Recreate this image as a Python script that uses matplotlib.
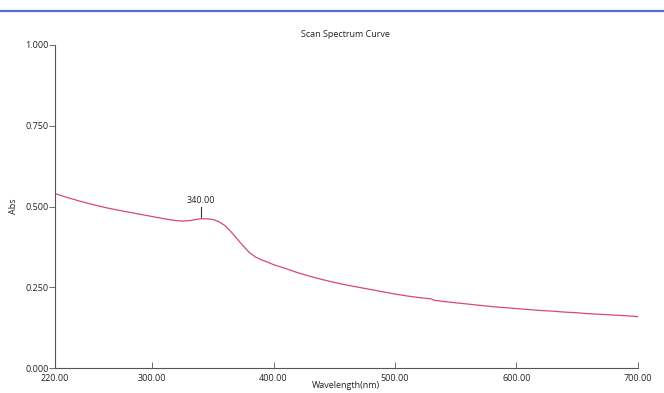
import matplotlib

matplotlib.use("Agg")
import matplotlib.pyplot as plt
from matplotlib.lines import Line2D

# absorbance scan
wavelength = [220, 230, 240, 250, 260, 270, 280, 290, 300, 310, 320, 325, 330, 335,
              340, 345, 350, 355, 360, 365, 370, 375, 380, 385, 390, 395, 400, 410,
              420, 430, 440, 450, 460, 470, 480, 490, 500, 510, 520, 530, 532, 540,
              550, 560, 570, 580, 590, 600, 610, 620, 630, 640, 650, 660, 670, 680,
              690, 700]
absorb = [0.540, 0.528, 0.517, 0.507, 0.498, 0.490, 0.483, 0.476, 0.469, 0.462, 0.456,
          0.455, 0.456, 0.459, 0.462, 0.462, 0.460, 0.453, 0.441, 0.422, 0.400, 0.378,
          0.358, 0.344, 0.335, 0.328, 0.320, 0.308, 0.295, 0.284, 0.274, 0.265, 0.257,
          0.250, 0.243, 0.236, 0.229, 0.223, 0.218, 0.214, 0.210, 0.206, 0.202, 0.198,
          0.194, 0.190, 0.187, 0.184, 0.181, 0.178, 0.176, 0.173, 0.171, 0.168, 0.166,
          0.164, 0.162, 0.159]

x_ticks = [220, 300, 400, 500, 600, 700]
y_ticks = [0.0, 0.25, 0.5, 0.75, 1.0]
peak_wl = 340
peak_label = "340.00"

plt.rcParams["font.family"] = ["Open Sans", "DejaVu Sans"]

fig = plt.figure(figsize=(6.64, 3.93), dpi=100)
ax = fig.add_axes([0.0828, 0.0636, 0.8776, 0.8219])

ax.plot(wavelength, absorb, color="#d9467a", linewidth=0.9)

# peak marker
ax.plot([peak_wl, peak_wl], [0.469, 0.497], color="#333333", linewidth=0.8)
ax.text(peak_wl, 0.505, peak_label, ha="center", va="bottom", fontsize=6.5,
        color="#222222")

ax.set_xlim(220, 700)
ax.set_ylim(0, 1.0)
ax.set_xticks(x_ticks)
ax.set_xticklabels([f"{v:.2f}" for v in x_ticks])
ax.set_yticks(y_ticks)
ax.set_yticklabels([f"{v:.3f}" for v in y_ticks])
ax.tick_params(axis="x", direction="in", length=4, width=0.6, labelsize=6.5,
               pad=4, colors="#555555", labelcolor="#222222")
ax.tick_params(axis="y", direction="out", length=4, width=0.6, labelsize=6.5,
               pad=0.5, colors="#555555", labelcolor="#222222")

for side in ("top", "right"):
    ax.spines[side].set_visible(False)
for side in ("left", "bottom"):
    ax.spines[side].set_color("#555555")
    ax.spines[side].set_linewidth(0.8)

fig.text(0.5203, 1 - 385 / 393, "Wavelength(nm)", ha="center", va="center",
         fontsize=6.5, color="#222222")
fig.text(14 / 664, 1 - 206 / 393, "Abs", ha="center", va="center", rotation=90,
         fontsize=6.5, color="#222222")
fig.text(0.5203, 0.911, "Scan Spectrum Curve", ha="center", va="center",
         fontsize=6.5, color="#222222")

# blue rule across the top of the page
fig.add_artist(Line2D([0, 1], [1 - 11 / 393, 1 - 11 / 393], color="#5470b8",
                      linewidth=1.6, transform=fig.transFigure))

fig.savefig("out.png", dpi=100)
plt.close(fig)
